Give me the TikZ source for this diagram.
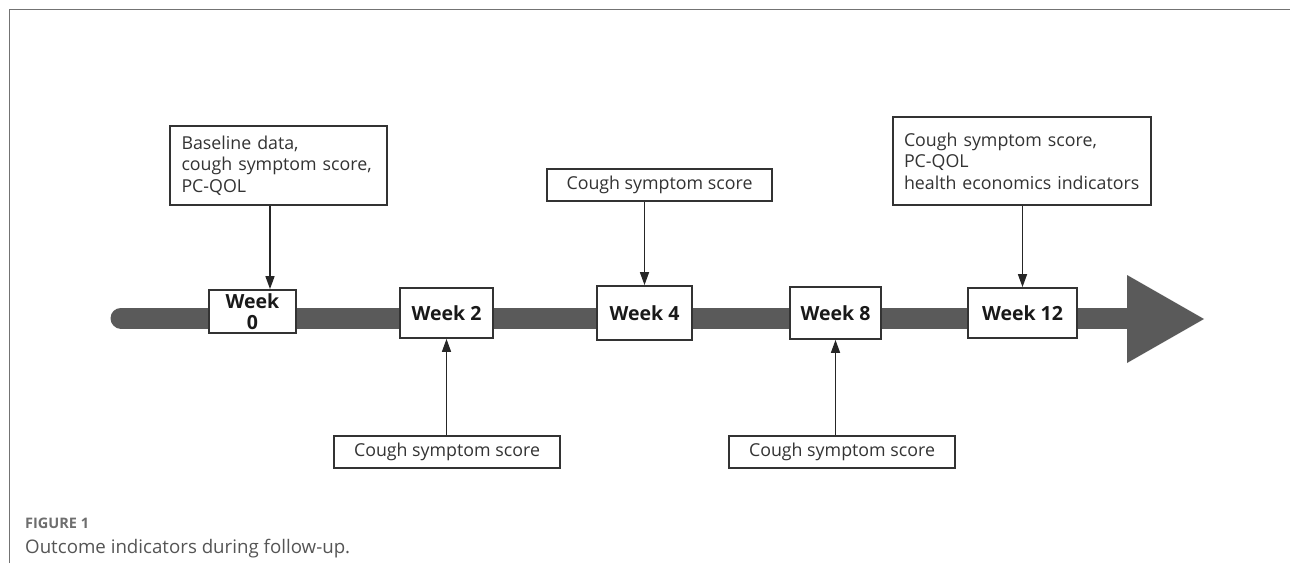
\documentclass[tikz,border=0pt]{standalone}
\usepackage{fontspec}
\setmainfont{Open Sans}
\usepackage{tikz}
\usetikzlibrary{arrows.meta}
\definecolor{bargray}{HTML}{5a5a5a}
\definecolor{notegray}{HTML}{333333}
\definecolor{captiongray}{HTML}{555555}

\begin{document}
\begin{tikzpicture}[x=1pt, y=-1pt,
    week/.style={rectangle, draw=black!80, line width=1.8pt, fill=white, inner sep=0pt, align=center, text=black!90, font=\bfseries\fontsize{19.5}{21}\selectfont},
    note/.style={rectangle, draw=black!80, line width=1.8pt, fill=white, inner sep=0pt, align=left, text=notegray, font=\fontsize{17.8}{21.5}\selectfont},
    link/.style={-{Triangle[length=13pt, width=9pt]}, line width=1.6pt, draw=black!85},
]
    \useasboundingbox (0,0) rectangle (1290,563);
    % Frame
    \draw[black!55, line width=1pt] (9,563) -- (9,9) -- (1290,9);
    % Timeline
    \draw[bargray, line width=21pt, line cap=round] (121,318) -- (1130,318);
    \fill[bargray] (1127,275) -- (1204,319) -- (1127,363) -- cycle;
    % Weeks
    \node[week, minimum width=87pt, minimum height=43pt] (w0) at (252.5,311.5) {Week\\0};
    \foreach \nm/\cx/\bw/\bh/\txt in {w2/446.5/93/50/2, w4/644.5/95/54/4, w8/835.5/91/52/8, w12/1022.5/109/50/12} {
        \node[week, minimum width=\bw pt, minimum height=\bh pt] (\nm) at (\cx,313) {Week \txt};
    }
    % Outcomes above
    \node[note, minimum width=217pt, minimum height=79pt, text width=194pt] (base) at (278.5,165.5) {Baseline data,\\cough symptom score,\\PC-QOL};
    \node[note, minimum width=225pt, minimum height=32pt, align=center] (c4) at (659.5,185) {Cough symptom score};
    \node[note, minimum width=258pt, minimum height=88pt, text width=236pt] (c12) at (1022,161) {Cough symptom score,\\PC-QOL\\health economics indicators};
    % Outcomes below
    \node[note, minimum width=226pt, minimum height=32pt, align=center] (b2) at (447,452) {Cough symptom score};
    \node[note, minimum width=226pt, minimum height=32pt, align=center] (b8) at (842,452) {Cough symptom score};
    % Arrows
    \draw[link] ([xshift=-8.5pt]base.south) -- ([xshift=-8.5pt]base.south |- w0.north);
    \draw[link] (c4.south -| w4) -- (w4.north);
    \draw[link] (c12.south -| w12) -- (w12.north);
    \draw[link] (b2.north -| w2) -- (w2.south);
    \draw[link] (b8.north -| w8) -- (w8.south);
    % Caption
    \node[anchor=base west, inner sep=0pt, text=captiongray!85, font=\bfseries\fontsize{14.5}{17}\selectfont] (fig) at (25,528) {FIGURE 1};
    \node[anchor=base west, inner sep=0pt, text=captiongray, font=\fontsize{18.7}{21}\selectfont] (cap) at (25,553) {Outcome indicators during follow-up.};
\end{tikzpicture}
\end{document}
